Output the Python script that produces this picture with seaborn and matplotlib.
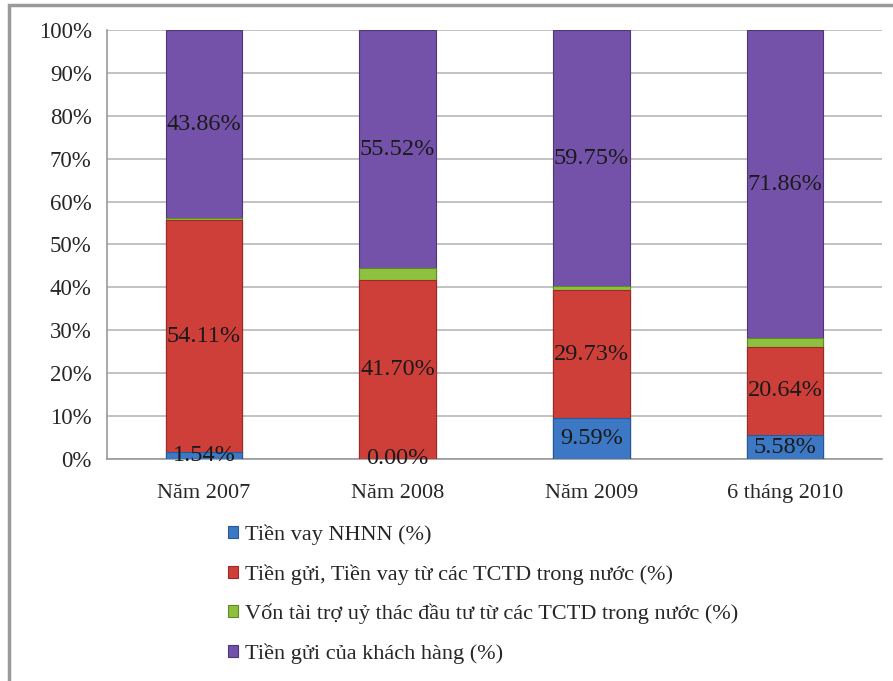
import matplotlib
matplotlib.use("Agg")
import matplotlib.pyplot as plt
from matplotlib.patches import Rectangle, Patch
from matplotlib.ticker import FixedLocator, PercentFormatter
import numpy as np
import pandas as pd
import seaborn as sns

categories = ["Năm 2007", "Năm 2008", "Năm 2009", "6 tháng 2010"]
series_names = [
    "Tiền vay NHNN (%)",
    "Tiền gửi, Tiền vay từ các TCTD trong nước (%)",
    "Vốn tài trợ uỷ thác đầu tư từ các TCTD trong nước (%)",
    "Tiền gửi của khách hàng (%)",
]
vay_nhnn = [1.54, 0.00, 9.59, 5.58]
tien_gui_tctd = [54.11, 41.70, 29.73, 20.64]
von_uy_thac = [0.49, 2.78, 0.93, 1.92]
tien_gui_kh = [43.86, 55.52, 59.75, 71.86]
colors = ["#3c78c4", "#cf3f3a", "#8ec13f", "#7452aa"]
edge_colors = ["#245a9a", "#9c2a26", "#5f8a25", "#4f3478"]

series = [vay_nhnn, tien_gui_tctd, von_uy_thac, tien_gui_kh]
df = pd.DataFrame({"category": categories})
for name, vals in zip(series_names, series):
    df[name] = vals
cum = df[series_names].cumsum(axis=1)

sns.set_style("white")
plt.rcParams["font.family"] = ["Liberation Serif", "DejaVu Serif"]

fig = plt.figure(figsize=(8.93, 6.81), dpi=100)
ax = fig.add_axes([0.1198, 0.326, 0.8679, 0.630])

# Stack by drawing cumulative totals from the top series down
for i in range(len(series_names) - 1, -1, -1):
    sns.barplot(data=cum.assign(category=categories), x="category",
                y=series_names[i], color=colors[i], width=0.395,
                saturation=1, edgecolor=edge_colors[i], linewidth=0.8,
                ax=ax, zorder=3)

# Value labels centred in their segments
for j, cat in enumerate(categories):
    lower = 0.0
    for i, name in enumerate(series_names):
        v = df.loc[j, name]
        if i != 2:
            ax.text(j, lower + v / 2, f"{v:.2f}%", ha="center", va="center",
                    fontsize=17.5, color="#1a1a1a", zorder=5)
        lower += v

ax.set_xlim(-0.5, 3.5)
ax.set_ylim(0, 100)
ax.yaxis.set_major_locator(FixedLocator(np.arange(0, 101, 10)))
ax.yaxis.set_major_formatter(PercentFormatter(decimals=0))
ax.grid(axis="y", color="#bdbdbd", linewidth=1.3, zorder=0)
ax.set_axisbelow(True)
ax.set_xlabel("")
ax.set_ylabel("")
for side in ["top", "right"]:
    ax.spines[side].set_visible(False)
for side in ["left", "bottom"]:
    ax.spines[side].set_color("#9a9a9a")
    ax.spines[side].set_linewidth(1.2)
ax.tick_params(axis="y", length=5, color="#9a9a9a", labelsize=16.5, pad=6)
ax.tick_params(axis="x", which="major", length=0, labelsize=16, pad=18)
ax.xaxis.set_minor_locator(FixedLocator([0.5, 1.5, 2.5, 3.5]))
ax.tick_params(axis="x", which="minor", length=6, color="#9a9a9a", width=1.2)

handles = [Patch(facecolor=c, edgecolor=e, linewidth=0.8)
           for c, e in zip(colors, edge_colors)]
fig.legend(handles, series_names, loc="upper left",
           bbox_to_anchor=(0.245, 0.243), frameon=False, fontsize=16,
           handlelength=0.45, handleheight=0.45, handletextpad=0.35,
           labelspacing=0.86, borderaxespad=0)

# Outer chart frame
fig.patches.append(Rectangle((9.0 / 893, -0.05), 1.2, 1 - 5.5 / 681 + 0.05,
                             transform=fig.transFigure, fill=False,
                             edgecolor="#9a9a9a", linewidth=2.5))

fig.savefig("out.png", dpi=100)
